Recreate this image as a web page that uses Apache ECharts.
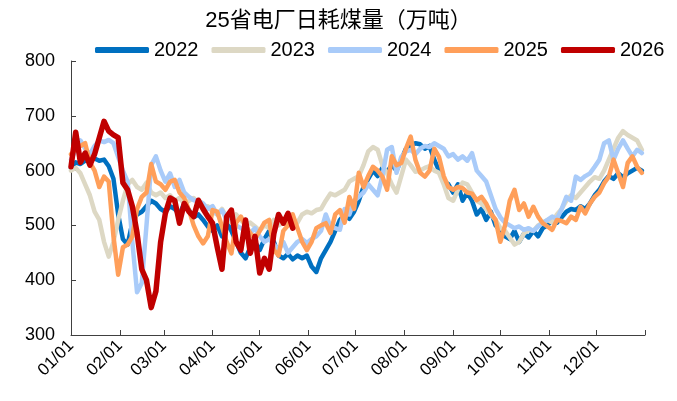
<!DOCTYPE html>
<html>
<head>
<meta charset="utf-8">
<script src="https://cdn.jsdelivr.net/npm/echarts@6.0.0/dist/echarts.min.js"></script>
<style>
  html, body { margin: 0; padding: 0; background: #fff; }
  #main { width: 677px; height: 401px; }
</style>
</head>
<body>
<div id="main"></div>
<script>
// 日序（每3天取一个点，0 = 01/01）
var days = [];
for (var d = 0; d <= 363; d += 3) days.push(d);

// 月初刻度与标签
var monthStarts = [0, 31, 59, 90, 120, 151, 181, 212, 243, 273, 304, 334, 365];
var monthLabels = ["01/01", "02/01", "03/01", "04/01", "05/01", "06/01",
  "07/01", "08/01", "09/01", "10/01", "11/01", "12/01", ""];

var years = ["2022", "2023", "2024", "2025", "2026"];

var v2022 = [
  605, 615, 612, 618, 620, 622, 618, 620, 608, 585,
  520, 475, 465, 505, 520, 525, 535, 545, 540, 530,
  525, 535, 530, 520, 540, 528, 515, 520, 510, 498,
  490, 500, 480, 505, 490, 470, 450, 440, 460, 470,
  455, 475, 490, 470, 445, 440, 448, 438, 445, 440,
  445, 425, 415, 440, 455, 470, 490, 510, 520, 512,
  525, 545, 570, 585, 600, 590, 605, 598, 610, 600,
  620, 640, 645, 650, 648, 640, 645, 620, 600, 580,
  575, 560, 575, 545, 560, 545, 520, 530, 510, 525,
  500, 490, 480, 475, 490, 470, 485, 478, 490, 480,
  495, 500, 510, 505, 515, 525, 530, 528, 535, 530,
  540, 555, 565, 580, 590, 585, 595, 588, 595, 600,
  605, 600
];
var v2023 = [
  600, 605, 595, 575, 555, 525, 510, 470, 443, 470,
  510, 545, 575, 583, 570, 565, 578, 560, 555, 560,
  550, 555, 545, 550, 540, 545, 550, 540, 530, 535,
  525, 520, 530, 515, 505, 520, 510, 500, 505, 498,
  490, 500, 495, 510, 500, 505, 500, 510, 505, 520,
  525, 522, 528, 530, 545, 558, 555, 560, 565, 580,
  585, 590, 610, 635, 643, 638, 610, 595, 575, 560,
  590, 620, 610, 598, 600, 605, 608, 600, 596, 575,
  550, 545, 565, 578, 575, 560, 545, 540, 530, 520,
  510, 495, 490, 478, 465, 470, 485, 492, 490, 500,
  505, 510, 505, 520, 530, 545, 555, 550, 560, 570,
  580, 588, 585, 600, 620, 640, 660, 672, 665, 660,
  655, 638
];
var v2024 = [
  620, 638, 655, 640, 630, 645, 655, 652, 656, 650,
  625, 600, 580, 470, 378, 395, 500, 610, 626, 600,
  580, 595, 570, 583, 560, 552, 546, 545, 540, 530,
  535, 520, 528, 510, 515, 500, 495, 490, 486, 495,
  480, 470, 475, 465, 455, 470, 450, 460, 470, 475,
  468, 475, 480, 490, 520, 498, 495, 492, 530, 520,
  545, 552, 560, 575, 565, 555, 590, 638, 643, 596,
  625, 635, 638, 630, 640, 645, 643, 650, 645, 640,
  626, 630, 620, 626, 618, 632, 600, 590, 580, 555,
  530, 515, 505, 500, 495, 498, 492, 495, 490, 498,
  505, 510, 516, 512, 530, 552, 545, 589, 583, 590,
  595, 607, 620, 650, 655, 620, 640, 655, 640, 626,
  638, 632
];
var v2025 = [
  630, 638, 645, 650, 615, 600, 570, 589, 580, 480,
  410, 460, 465, 480, 530, 552, 560, 612, 580, 575,
  565, 580, 583, 560, 550, 528, 500, 480, 467, 480,
  528, 525, 498, 470, 449, 505, 516, 500, 486, 475,
  490, 505, 510, 455, 445, 490, 500, 520, 495, 470,
  455, 470, 495, 500, 504, 486, 520, 528, 505, 552,
  530, 596, 570, 590, 607, 600, 589, 565, 626, 610,
  614, 640, 662, 620, 596, 589, 600, 640, 625, 590,
  570, 565, 570, 568, 560, 558, 546, 552, 540, 522,
  510, 470, 500, 545, 565, 528, 540, 516, 534, 516,
  504, 498, 492, 510, 508, 504, 516, 510, 534, 522,
  540, 552, 560, 577, 589, 620, 595, 570, 614, 626,
  607, 596
];
var v2026 = [
  607, 670, 615, 632, 610, 630, 660, 690, 672, 665,
  660, 578, 565, 535, 486, 420, 400, 350, 380, 470,
  522, 550, 545, 504, 540, 525, 516, 546, 530, 516,
  504, 460, 420, 516, 528, 470, 455, 510, 449, 480,
  413, 440, 420, 485, 520, 504, 522, 495
];

var colors = ["#0070C0", "#DDD8C4", "#A9CBF9", "#FF9F5A", "#C00000"];
var values = [v2022, v2023, v2024, v2025, v2026];
var font = "'Liberation Sans', Arial, 'Noto Sans CJK SC', sans-serif";

var chart = echarts.init(document.getElementById("main"), null, { renderer: "canvas" });

var series = years.map(function (name, i) {
  return {
    name: name,
    type: "line",
    showSymbol: false,
    symbol: "none",
    animation: false,
    lineStyle: {
      color: colors[i],
      width: i === 4 ? 5.5 : 4.5,
      cap: "round",
      join: "round"
    },
    itemStyle: { color: colors[i] },
    data: values[i].map(function (v, k) { return [days[k], v]; })
  };
});

var option = {
  animation: false,
  color: colors,
  title: {
    text: "25省电厂日耗煤量（万吨）",
    left: "center",
    top: 5,
    textStyle: { fontFamily: font, fontSize: 22, fontWeight: "normal", color: "#000" }
  },
  legend: {
    data: years,
    top: 35,
    left: 90,
    icon: "roundRect",
    itemWidth: 54,
    itemHeight: 6,
    itemGap: 13,
    textStyle: { fontFamily: font, fontSize: 20, color: "#000" }
  },
  grid: { left: 71, right: 32, top: 61, bottom: 66 },
  xAxis: {
    type: "value",
    min: 0,
    max: 365,
    splitLine: { show: false },
    axisLine: { lineStyle: { color: "#404040", width: 1 } },
    axisTick: {
      inside: true,
      length: 5,
      customValues: monthStarts,
      lineStyle: { color: "#404040" }
    },
    axisLabel: {
      customValues: monthStarts,
      rotate: 45,
      fontFamily: font,
      fontSize: 17,
      color: "#000",
      margin: 8,
      formatter: function (val) {
        var idx = monthStarts.indexOf(val);
        return idx >= 0 ? monthLabels[idx] : "";
      }
    }
  },
  yAxis: {
    type: "value",
    min: 300,
    max: 800,
    interval: 100,
    splitLine: { show: false },
    axisLine: { show: true, lineStyle: { color: "#404040", width: 1 } },
    axisTick: { show: true, inside: true, length: 5, lineStyle: { color: "#404040" } },
    axisLabel: { fontFamily: font, fontSize: 18, color: "#000", margin: 16 }
  },
  series: series
};

chart.setOption(option);
</script>
</body>
</html>
